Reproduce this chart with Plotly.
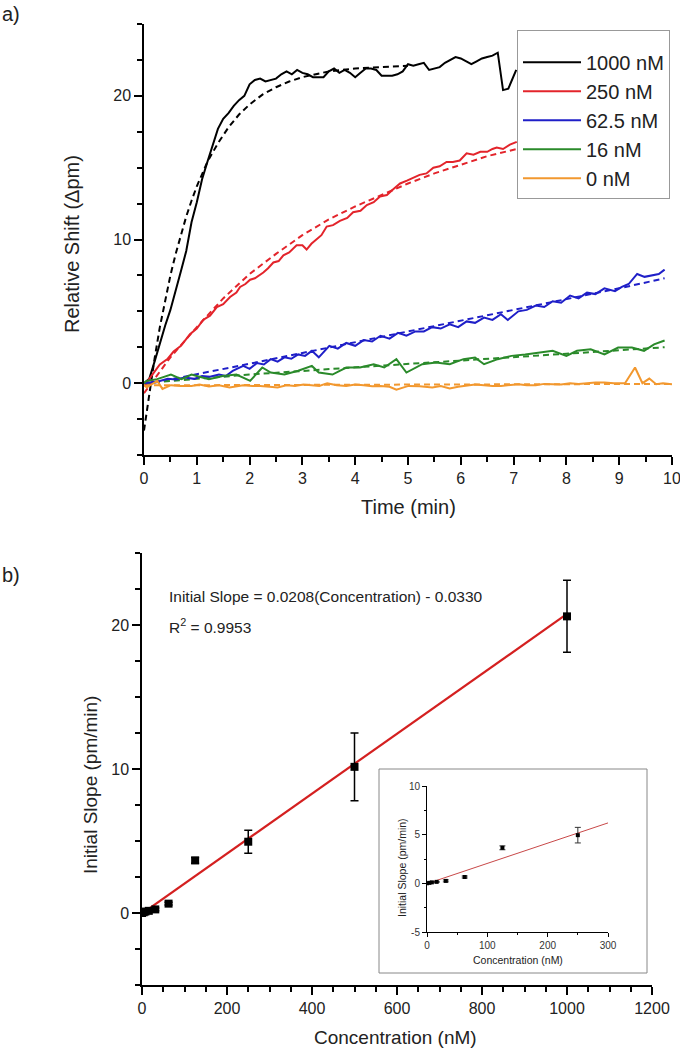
import plotly.graph_objects as go

FONT = "Liberation Sans, Arial, sans-serif"

# ---------------- Panel a) data ----------------
t_1000 = [0.0, 0.1, 0.2, 0.3, 0.4, 0.5, 0.6, 0.7, 0.8, 0.9, 1.0, 1.1, 1.2, 1.3, 1.4, 1.5, 1.6, 1.7, 1.8, 1.9,
          2.0, 2.1, 2.2, 2.3, 2.4, 2.5, 2.6, 2.7, 2.8, 2.9, 3.0, 3.1, 3.2, 3.3, 3.4, 3.5, 3.6, 3.7, 3.8, 3.9,
          4.0, 4.1, 4.2, 4.3, 4.4, 4.5, 4.6, 4.7, 4.8, 4.9, 5.0, 5.1, 5.2, 5.3, 5.4, 5.5, 5.6, 5.7, 5.8, 5.9,
          6.0, 6.1, 6.2, 6.3, 6.4, 6.5, 6.6, 6.7, 6.8, 6.9, 7.0, 7.05]
v_1000 = [0.0, 0.3, 1.5, 2.8, 4.0, 5.1, 6.4, 7.8, 9.2, 11.2, 12.6, 14.2, 15.4, 16.6, 17.7, 18.4, 18.8, 19.3, 19.7, 20.0,
          20.8, 21.1, 21.2, 21.0, 21.1, 21.2, 21.5, 21.7, 21.5, 21.8, 21.6, 21.5, 21.3, 21.3, 21.3, 21.7, 21.9, 21.6, 21.8, 21.6,
          21.3, 21.6, 21.9, 21.9, 21.8, 21.4, 21.4, 21.4, 21.5, 21.7, 22.2, 22.1, 22.2, 22.3, 21.8, 21.9, 22.0, 22.3, 22.5, 22.7,
          22.6, 22.4, 22.2, 22.4, 22.6, 22.7, 22.8, 23.0, 20.4, 20.5, 21.3, 21.8]
fit_t_1000 = [0.0, 0.1, 0.2, 0.3, 0.4, 0.5, 0.6, 0.7, 0.8, 0.9, 1.0, 1.2, 1.4, 1.6, 1.8, 2.0, 2.25, 2.5, 2.75, 3.0,
              3.5, 4.0, 4.5, 5.0]
fit_v_1000 = [-3.3, -0.7, 1.7, 3.9, 5.8, 7.5, 9.0, 10.4, 11.6, 12.7, 13.7, 15.4, 16.7, 17.8, 18.7, 19.4, 20.1, 20.6, 21.0, 21.3,
              21.7, 21.9, 22.0, 22.1]

t_250 = [0.0, 0.1, 0.2, 0.3, 0.45, 0.56, 0.7, 0.87, 1.0, 1.12, 1.25, 1.38, 1.5, 1.63, 1.75, 1.82, 1.92, 2.01, 2.1, 2.26,
         2.35, 2.45, 2.55, 2.64, 2.75, 2.89, 3.0, 3.08, 3.17, 3.27, 3.36, 3.46, 3.58, 3.71, 3.85, 3.96, 4.1, 4.22, 4.35, 4.47,
         4.6, 4.72, 4.85, 4.98, 5.1, 5.22, 5.35, 5.48, 5.6, 5.73, 5.85, 5.98, 6.11, 6.24, 6.37, 6.5, 6.6, 6.68, 6.8, 6.93, 7.06]
v_250 = [-0.2, 0.3, 0.8, 1.3, 1.7, 2.2, 2.6, 3.4, 3.8, 4.4, 4.7, 5.3, 5.5, 6.0, 6.3, 6.7, 6.9, 7.2, 7.3, 7.7,
         8.0, 8.4, 8.5, 8.9, 9.1, 9.6, 9.6, 9.3, 9.7, 10.0, 10.3, 10.9, 11.0, 11.3, 11.5, 11.9, 12.0, 12.4, 12.6, 13.0,
         13.1, 13.5, 13.9, 14.1, 14.3, 14.5, 14.6, 15.0, 15.1, 15.4, 15.4, 15.5, 16.0, 15.9, 16.1, 16.1, 16.3, 16.4, 16.3, 16.6, 16.8]
fit_t_250 = [0.0, 0.5, 1.0, 1.5, 2.0, 2.5, 3.0, 3.5, 4.0, 4.5, 5.0, 5.5, 6.0, 6.5, 7.06]
fit_v_250 = [-0.7, 1.8, 3.9, 5.9, 7.6, 9.0, 10.3, 11.4, 12.3, 13.1, 13.9, 14.6, 15.2, 15.8, 16.3]

t_62 = [0.0, 0.12, 0.3, 0.45, 0.6, 0.77, 0.95, 1.1, 1.25, 1.42, 1.55, 1.68, 1.88, 2.0, 2.14, 2.27, 2.4, 2.53, 2.66, 2.79,
        2.92, 3.05, 3.18, 3.31, 3.51, 3.67, 3.83, 4.0, 4.16, 4.32, 4.48, 4.65, 4.81, 4.97, 5.14, 5.3, 5.46, 5.62, 5.79, 5.95,
        6.11, 6.27, 6.44, 6.6, 6.76, 6.89, 7.09, 7.25, 7.42, 7.58, 7.74, 7.9, 8.07, 8.23, 8.39, 8.55, 8.72, 8.92, 9.05, 9.18,
        9.34, 9.48, 9.63, 9.75, 9.86]
v_62 = [0.0, 0.05, 0.15, 0.3, 0.25, 0.4, 0.3, 0.5, 0.45, 0.6, 0.5, 0.85, 1.2, 1.0, 1.4, 1.3, 1.67, 1.5, 1.8, 1.7,
        2.0, 1.9, 2.25, 1.8, 2.6, 2.4, 2.8, 2.6, 3.0, 2.9, 3.3, 3.1, 3.5, 3.3, 3.6, 3.6, 3.9, 3.8, 4.1, 3.9,
        4.3, 4.2, 4.56, 4.4, 4.8, 4.4, 5.0, 5.1, 5.4, 5.3, 5.7, 5.6, 6.1, 5.9, 6.3, 6.2, 6.6, 6.4, 6.7, 6.9,
        7.6, 7.4, 7.5, 7.6, 7.9]
fit_t_62 = [0.0, 1.0, 2.0, 3.0, 4.0, 5.0, 6.0, 7.0, 8.0, 9.0, 9.86]
fit_v_62 = [-0.1, 0.6, 1.35, 2.1, 2.85, 3.6, 4.35, 5.1, 5.85, 6.6, 7.3]

t_16 = [0.0, 0.05, 0.25, 0.51, 0.71, 0.9, 1.05, 1.23, 1.49, 1.75, 2.01, 2.24, 2.4, 2.66, 2.92, 3.18, 3.31, 3.57, 3.83, 4.09,
        4.35, 4.55, 4.78, 4.97, 5.27, 5.53, 5.79, 6.05, 6.27, 6.44, 6.7, 6.96, 7.22, 7.48, 7.74, 8.0, 8.2, 8.46, 8.72, 8.98,
        9.24, 9.47, 9.66, 9.86]
v_16 = [0.0, 0.16, 0.28, 0.6, 0.28, 0.6, 0.45, 0.28, 0.5, 0.6, 0.16, 1.09, 0.74, 0.6, 0.86, 1.2, 0.74, 0.6, 1.09, 1.09,
        1.32, 1.09, 1.67, 0.74, 1.32, 1.44, 1.32, 1.67, 1.78, 1.32, 1.67, 1.9, 2.0, 2.13, 2.25, 1.9, 2.25, 2.36, 2.0, 2.48,
        2.48, 2.25, 2.7, 2.97]
fit_t_16 = [0.0, 2.0, 4.0, 6.0, 8.0, 9.86]
fit_v_16 = [0.0, 0.6, 1.1, 1.6, 2.05, 2.5]

t_0 = [0.0, 0.05, 0.25, 0.35, 0.51, 0.7, 0.9, 1.05, 1.23, 1.42, 1.62, 1.88, 2.05, 2.2, 2.38, 2.53, 2.7, 2.86, 3.02, 3.18,
       3.32, 3.47, 3.65, 3.83, 4.0, 4.16, 4.32, 4.48, 4.65, 4.78, 5.01, 5.22, 5.46, 5.62, 5.79, 5.95, 6.11, 6.27, 6.44, 6.6,
       6.76, 6.92, 7.09, 7.25, 7.42, 7.58, 7.74, 7.9, 8.07, 8.23, 8.39, 8.55, 8.72, 8.9, 9.11, 9.3, 9.44, 9.57, 9.7, 9.83, 10.0]
v_0 = [-0.1, -0.3, 0.16, -0.4, -0.14, -0.2, -0.19, -0.1, -0.23, -0.15, -0.3, -0.14, -0.2, -0.19, -0.25, -0.3, -0.15, -0.19, -0.1, -0.14,
       -0.2, 0.0, -0.15, -0.19, -0.1, -0.14, -0.22, -0.19, -0.25, -0.46, -0.19, -0.22, -0.3, -0.2, -0.37, -0.25, -0.19, -0.1, -0.14, -0.2,
       -0.19, -0.12, -0.07, -0.15, -0.14, -0.05, -0.07, -0.1, 0.0, -0.05, 0.0, 0.05, 0.05, 0.0, 0.0, 1.09, 0.0, 0.32, -0.07, 0.0, -0.07]
fit_t_0 = [0.0, 10.0]
fit_v_0 = [-0.15, -0.05]

series_names = ["1000 nM", "250 nM", "62.5 nM", "16 nM", "0 nM"]
series_colors = ["#000000", "#e3242b", "#1f1fc8", "#2a8a2a", "#f2982f"]

# ---------------- Panel b) data ----------------
conc = [0, 4, 8, 16, 31.25, 62.5, 125, 250, 500, 1000]
slope = [0.0, 0.05, 0.1, 0.15, 0.25, 0.65, 3.65, 4.95, 10.15, 20.6]
slope_err = [0.05, 0.05, 0.05, 0.05, 0.1, 0.1, 0.2, 0.8, 2.35, 2.5]
fit_slope = 0.0208
fit_intercept = -0.0330
fit_range_main = [0, 1000]
fit_range_inset = [0, 300]
inset_max_conc = 300

fig = go.Figure()

solid = [(t_1000, v_1000), (t_250, v_250), (t_62, v_62), (t_16, v_16), (t_0, v_0)]
fits = [(fit_t_1000, fit_v_1000), (fit_t_250, fit_v_250), (fit_t_62, fit_v_62), (fit_t_16, fit_v_16), (fit_t_0, fit_v_0)]

for i, name in enumerate(series_names):
    c = series_colors[i]
    fig.add_trace(go.Scatter(x=fits[i][0], y=fits[i][1], mode="lines", line=dict(color=c, width=2, dash="6px,4px"),
                             showlegend=False, legendgroup=name, xaxis="x", yaxis="y"))
for i, name in enumerate(series_names):
    c = series_colors[i]
    fig.add_trace(go.Scatter(x=solid[i][0], y=solid[i][1], mode="lines", name=name, line=dict(color=c, width=2),
                             legendgroup=name, xaxis="x", yaxis="y"))

# Panel b main
fit_y_main = [fit_slope * x + fit_intercept for x in fit_range_main]
fig.add_trace(go.Scatter(x=fit_range_main, y=fit_y_main, mode="lines", line=dict(color="#d42020", width=2.2),
                         showlegend=False, xaxis="x2", yaxis="y2"))
fig.add_trace(go.Scatter(x=conc, y=slope, mode="markers",
                         marker=dict(symbol="square", size=8, color="black"),
                         error_y=dict(type="data", array=slope_err, color="black", thickness=1.5, width=4),
                         showlegend=False, xaxis="x2", yaxis="y2"))

# Inset
fit_y_inset = [fit_slope * x + fit_intercept for x in fit_range_inset]
fig.add_trace(go.Scatter(x=fit_range_inset, y=fit_y_inset, mode="lines", line=dict(color="#c84848", width=1),
                         showlegend=False, xaxis="x3", yaxis="y3"))
ix = [c for c in conc if c <= inset_max_conc]
iy = [s for c, s in zip(conc, slope) if c <= inset_max_conc]
ie = [e for c, e in zip(conc, slope_err) if c <= inset_max_conc]
fig.add_trace(go.Scatter(x=ix, y=iy, mode="markers",
                         marker=dict(symbol="square", size=4, color="black"),
                         error_y=dict(type="data", array=ie, color="#333", thickness=1, width=3),
                         showlegend=False, xaxis="x3", yaxis="y3"))

tickfont = dict(family=FONT, size=16, color="#222")
ax_common = dict(showline=True, linecolor="black", linewidth=1.5, ticks="outside", ticklen=8, tickwidth=1.5,
                 tickcolor="black", showgrid=False, zeroline=False, tickfont=tickfont, automargin=False,
                 ticklabeloverflow="allow")
inset_common = dict(showline=True, linecolor="black", linewidth=1, ticks="outside", ticklen=4, tickwidth=1,
                    tickcolor="black", showgrid=False, zeroline=False, automargin=False,
                    tickfont=dict(family=FONT, size=10, color="#333"))

fig.update_layout(
    width=680, height=1050, autosize=False,
    margin=dict(l=0, r=0, t=0, b=0, autoexpand=False),
    paper_bgcolor="white", plot_bgcolor="rgba(0,0,0,0)",
    font=dict(family=FONT, color="#222"),
    xaxis=dict(domain=[144 / 680, 672 / 680], range=[0, 10], anchor="y", dtick=1, tick0=0,
               minor=dict(dtick=0.5, ticklen=5, tickwidth=1.5, ticks="outside", tickcolor="black"), **ax_common),
    yaxis=dict(domain=[1 - 455 / 1050, 1 - 24 / 1050], range=[-5, 25], anchor="x", dtick=10, tick0=0,
               minor=dict(dtick=2.5, ticklen=5, tickwidth=1.5, ticks="outside", tickcolor="black"), **ax_common),
    xaxis2=dict(domain=[142 / 680, 652 / 680], range=[0, 1200], anchor="y2", dtick=200, tick0=0,
                minor=dict(dtick=50, ticklen=5, tickwidth=1.5, ticks="outside", tickcolor="black"), **ax_common),
    yaxis2=dict(domain=[1 - 985 / 1050, 1 - 553 / 1050], range=[-5, 25], anchor="x2", dtick=10, tick0=0,
                minor=dict(dtick=2.5, ticklen=5, tickwidth=1.5, ticks="outside", tickcolor="black"), **ax_common),
    xaxis3=dict(domain=[427 / 680, 608 / 680], range=[0, 300], anchor="y3", dtick=100, tick0=0,
                minor=dict(dtick=50, ticklen=2, tickwidth=1, ticks="outside", tickcolor="black"), **inset_common),
    yaxis3=dict(domain=[1 - 932 / 1050, 1 - 786 / 1050], range=[-5, 10], anchor="x3",
                tickvals=[-5, 0, 5, 10], ticktext=["-5", "0", "5", "10"],
                minor=dict(dtick=2.5, ticklen=2, tickwidth=1, ticks="outside", tickcolor="black"), **inset_common),
    legend=dict(x=517 / 680, y=1 - 30 / 1050, xanchor="left", yanchor="top",
                bgcolor="white", bordercolor="#999", borderwidth=1,
                font=dict(family=FONT, size=20, color="#222"), tracegroupgap=9.5, itemwidth=58,
                traceorder="normal", title=dict(text=" ", font=dict(size=9))),
    shapes=[dict(type="rect", xref="paper", yref="paper", x0=379 / 680, x1=647 / 680,
                 y0=1 - 973 / 1050, y1=1 - 769 / 1050, line=dict(color="#888", width=1), layer="below")],
)

ann = [
    dict(text="a)", x=0.0, y=1 - 1 / 1050, xanchor="left", yanchor="top", font=dict(size=20)),
    dict(text="b)", x=0.0, y=1 - 562 / 1050, xanchor="left", yanchor="top", font=dict(size=20)),
    dict(text="Relative Shift (\u0394pm)", x=72 / 680, y=1 - 244 / 1050, textangle=-90, font=dict(size=20)),
    dict(text="Time (min)", x=408 / 680, y=1 - 507 / 1050, font=dict(size=20)),
    dict(text="Initial Slope (pm/min)", x=90 / 680, y=1 - 785 / 1050, textangle=-90, font=dict(size=19)),
    dict(text="Concentration (nM)", x=395 / 680, y=1 - 1037 / 1050, font=dict(size=19)),
    dict(text="Initial Slope = 0.0208(Concentration) - 0.0330", x=167 / 680, y=1 - 596 / 1050,
         xanchor="left", font=dict(size=15.5)),
    dict(text="R<sup>2</sup> = 0.9953", x=167 / 680, y=1 - 626 / 1050, xanchor="left", font=dict(size=15.5)),
    dict(text="Initial Slope (pm/min)", x=402 / 680, y=1 - 868 / 1050, textangle=-90, font=dict(size=10.5)),
    dict(text="Concentration (nM)", x=518 / 680, y=1 - 960 / 1050, font=dict(size=10.5)),
]
for a in ann:
    a.update(xref="paper", yref="paper", showarrow=False)
    a.setdefault("xanchor", "center")
    a.setdefault("yanchor", "middle")
    a["font"] = dict(family=FONT, color="#222", **a["font"])
fig.update_layout(annotations=ann)

fig.write_html("out.html", config={"responsive": False, "displayModeBar": False},
               post_script="document.body.style.margin='0';document.body.style.overflow='hidden';")
